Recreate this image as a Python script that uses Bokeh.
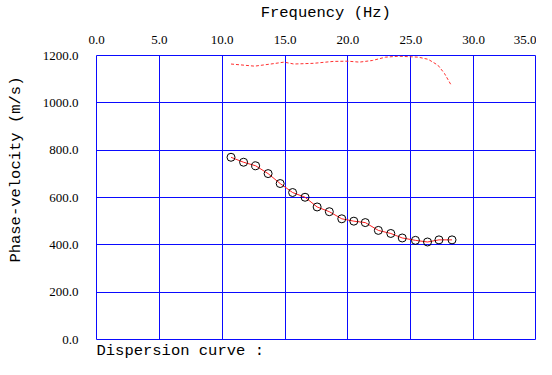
from bokeh.plotting import figure
from bokeh.models import (LinearAxis, FixedTicker, PrintfTickFormatter, Range1d, Title)
from bokeh.embed import file_html
from bokeh.resources import INLINE

# Observed dispersion points (frequency Hz, phase velocity m/s)
freq = [10.7, 11.7, 12.66, 13.65, 14.61, 15.6, 16.59, 17.55, 18.52, 19.51,
        20.47, 21.38, 22.42, 23.41, 24.32, 25.37, 26.33, 27.24, 28.28]
vel = [770, 749, 734, 701, 659, 621, 601, 560, 540, 510,
       500, 494, 461, 448, 429, 419, 412, 421, 421]

# Dashed upper curve
freq2 = [10.7, 12.58, 14.14, 14.92, 15.7, 17.27, 18.83, 20.0, 20.91, 21.95,
         22.99, 24.04, 25.6, 26.38, 27.16, 27.68, 28.2]
vel2 = [1164, 1155, 1166, 1172, 1164, 1167, 1175, 1176, 1172, 1179,
        1193, 1197, 1193, 1184, 1159, 1124, 1076]

x_ticks = [0, 5, 10, 15, 20, 25, 30, 35]
y_ticks = [0, 200, 400, 600, 800, 1000, 1200]

BLUE = "#0a0aff"
MONO = "Liberation Mono"
SERIF = "Liberation Serif"
NB = "\u00a0"

p = figure(width=536, height=359, output_backend="svg", toolbar_location=None,
           x_range=Range1d(0, 35), y_range=Range1d(0, 1200),
           x_axis_location=None, y_axis_location=None,
           min_border_left=96, min_border_right=0,
           min_border_top=55, min_border_bottom=17)
p.background_fill_color = "white"
p.border_fill_color = "white"
p.outline_line_color = BLUE
p.outline_line_width = 1

xa = LinearAxis(ticker=FixedTicker(ticks=x_ticks),
                formatter=PrintfTickFormatter(format="%.1f"),
                axis_label=NB * 2 + "Frequency (Hz)")
ya = LinearAxis(ticker=FixedTicker(ticks=y_ticks),
                formatter=PrintfTickFormatter(format="%.1f"),
                axis_label=NB * 6 + "Phase-velocity (m/s)")
for ax in (xa, ya):
    ax.axis_line_color = None
    ax.major_tick_line_color = None
    ax.minor_tick_line_color = None
    ax.major_label_text_font = SERIF
    ax.major_label_text_font_size = "13px"
    ax.major_label_text_color = "black"
    ax.axis_label_text_font = MONO
    ax.axis_label_text_font_size = "15.5px"
    ax.axis_label_text_font_style = "normal"
    ax.axis_label_text_color = "black"
xa.major_label_standoff = 6
xa.axis_label_standoff = 11
ya.major_label_standoff = 12
ya.axis_label_standoff = 15
p.add_layout(xa, "above")
p.add_layout(ya, "left")

p.xgrid.ticker = FixedTicker(ticks=x_ticks)
p.ygrid.ticker = FixedTicker(ticks=y_ticks)
p.xgrid.grid_line_color = BLUE
p.ygrid.grid_line_color = BLUE
p.xgrid.grid_line_width = 1
p.ygrid.grid_line_width = 1

p.line(freq2, vel2, line_color="#ff3030", line_width=1, line_dash="3 2")
p.line(freq, vel, line_color="#ff2020", line_width=1)
p.scatter(freq, vel, size=8, marker="circle", fill_color=None,
          line_color="black", line_width=1)

t = Title(text="Dispersion curve :", align="left", text_font=MONO,
          text_font_size="15.5px", text_font_style="normal",
          text_color="black", standoff=0)
p.add_layout(t, "below")

open("out.html", "w").write(file_html(p, INLINE))
